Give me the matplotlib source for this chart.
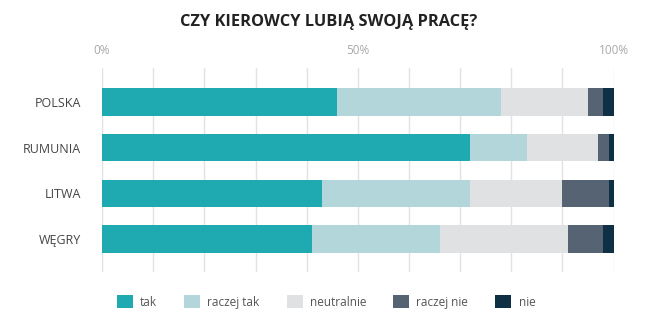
import numpy as np
import matplotlib
matplotlib.use("Agg")
import matplotlib.pyplot as plt
from matplotlib.patches import Patch

plt.rcParams['font.family'] = ['Open Sans', 'DejaVu Sans']

countries = ['POLSKA', 'RUMUNIA', 'LITWA', 'WĘGRY']
answers = ['tak', 'raczej tak', 'neutralnie', 'raczej nie', 'nie']
# share of answers per country, in %
tak = [46, 72, 43, 41]
raczej_tak = [32, 11, 29, 25]
neutralnie = [17, 14, 18, 25]
raczej_nie = [3, 2, 9, 7]
nie = [2, 1, 1, 2]
colors = ['#1fa9b0', '#b3d6da', '#e0e1e2', '#566373', '#0f2f45']

series = [tak, raczej_tak, neutralnie, raczej_nie, nie]

fig = plt.figure(figsize=(6.67, 3.33), dpi=100)
ax = fig.add_axes([0.153, 0.183, 0.767, 0.613])

y = np.arange(len(countries))
left = np.zeros(len(countries))
for vals, col, name in zip(series, colors, answers):
    ax.barh(y, vals, left=left, height=0.6, color=col, label=name, zorder=2)
    left += np.array(vals)

ax.set_xlim(0, 100)
ax.set_ylim(len(countries) - 1 + 0.72, -0.74)
ax.set_xticks(np.arange(0, 101, 10))
ax.set_xticklabels(['0%' if t == 0 else '50%' if t == 50 else '100%' if t == 100 else ''
                    for t in range(0, 101, 10)])
ax.xaxis.tick_top()
ax.tick_params(axis='x', length=0, pad=8, labelsize=8.5, labelcolor='#a8a8a8')
ax.tick_params(axis='y', length=0, pad=15, labelsize=9, labelcolor='#444444')
ax.set_yticks(y)
ax.set_yticklabels(countries)
ax.grid(axis='x', color='#e2e2e2', linewidth=1, zorder=0)
for s in ax.spines.values():
    s.set_visible(False)

fig.text(0.492, 0.935, 'CZY KIEROWCY LUBIĄ SWOJĄ PRACĘ?', ha='center', va='center',
         fontsize=11.8, fontweight='bold', color='#222222')

handles = [Patch(facecolor=c, edgecolor='none') for c in colors]
fig.legend(handles, answers, loc='center', bbox_to_anchor=(0.489, 0.093), ncol=5,
           frameon=False, fontsize=8.5, handlelength=1.35, handleheight=1.35,
           columnspacing=2.3, handletextpad=0.6, labelcolor='#555555')

fig.savefig('out.png', dpi=100)
